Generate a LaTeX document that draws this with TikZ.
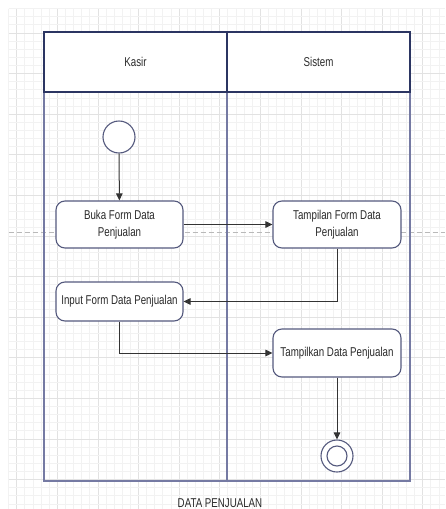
\documentclass[tikz,border=0pt]{standalone}
\usepackage{fontspec}
\setmainfont{Liberation Sans}[FakeStretch=0.76]
\usetikzlibrary{arrows.meta,calc}
\definecolor{minorg}{HTML}{F2F2F2}
\definecolor{majorg}{HTML}{E2E2E2}
\definecolor{headc}{HTML}{2B3562}
\definecolor{lanec}{HTML}{757AA3}
\definecolor{boxc}{HTML}{555A7E}
\definecolor{txt}{HTML}{2A2A2A}
\definecolor{arr}{HTML}{333333}
\tikzset{
  minorgrid/.style={draw=minorg,line width=0.8pt},
  majorgrid/.style={draw=majorg,line width=0.8pt},
  pagebreak/.style={draw=gray!55,dashed,dash pattern=on 5pt off 3pt,line width=0.8pt},
  header/.style={draw=headc,fill=white,line width=1.4pt},
  lane/.style={draw=lanec,line width=1.4pt},
  lbl/.style={text=txt,font=\fontsize{12.8}{17}\selectfont,inner sep=0pt},
  actbox/.style={draw=boxc,fill=white,line width=1.1pt,rounded corners=9pt,
    text=txt,font=\fontsize{12.8}{17}\selectfont,align=center,inner sep=0pt,
    minimum width=127pt},
  startnode/.style={circle,draw=boxc,fill=white,line width=1.1pt,minimum size=32pt,inner sep=0pt},
  flow/.style={draw=arr,line width=1pt,-{Triangle[length=7pt,width=6.5pt]}},
}
\begin{document}
\begin{tikzpicture}[x=1pt,y=-1pt]
\useasboundingbox[fill=white] (0,0) rectangle (445,509);
% grid
\foreach \i in {0,...,53} {
  \pgfmathtruncatemacro{\m}{mod(\i,5)}
  \ifnum\m=1
    \draw[majorgrid] ({8.6+8.12*\i},8.6) -- ({8.6+8.12*\i},509);
  \else
    \draw[minorgrid] ({8.6+8.12*\i},8.6) -- ({8.6+8.12*\i},509);
  \fi
}
\foreach \i in {0,...,61} {
  \pgfmathtruncatemacro{\m}{mod(\i,5)}
  \ifnum\m=3
    \draw[majorgrid] (8.6,{8.6+8.12*\i}) -- (445,{8.6+8.12*\i});
  \else
    \draw[minorgrid] (8.6,{8.6+8.12*\i}) -- (445,{8.6+8.12*\i});
  \fi
}
% page break line
\draw[pagebreak] (8.6,232) -- (445,232);
% swimlanes
\draw[lane] (44,92) rectangle (227,481);
\draw[lane] (227,92) rectangle (410,481);
\draw[header] (44,32) rectangle (227,92);
\draw[header] (227,32) rectangle (410,92);
\node[lbl] (kasir) at (135.5,62) {Kasir};
\node[lbl] (sistem) at (318.5,62) {Sistem};
% nodes
\node[startnode] (start) at (119,137) {};
\node[actbox,minimum height=47pt] (buka) at (119.5,224.5) {Buka Form Data\\Penjualan};
\node[actbox,minimum width=128pt,minimum height=47pt] (tampil) at (337,224.5) {Tampilan Form Data\\Penjualan};
\node[actbox,minimum height=39pt] (input) at (119.5,301.5) {Input Form Data Penjualan};
\node[actbox,minimum width=128pt,minimum height=48pt] (tampilkan) at (337,353) {Tampilkan Data Penjualan};
\node[startnode] (end) at (337,456) {};
\node[circle,draw=boxc,line width=1.1pt,minimum size=20pt,inner sep=0pt] (endin) at (end.center) {};
% connectors
\draw[flow] (start) -- (buka);
\draw[flow] (buka) -- (tampil);
\draw[flow] (tampil.south) |- (input.east);
\draw[flow] (input.south) |- (tampilkan.west);
\draw[flow] (tampilkan) -- (end);
% caption
\node[lbl] (cap) at (220,503) {DATA PENJUALAN};
\end{tikzpicture}
\end{document}
